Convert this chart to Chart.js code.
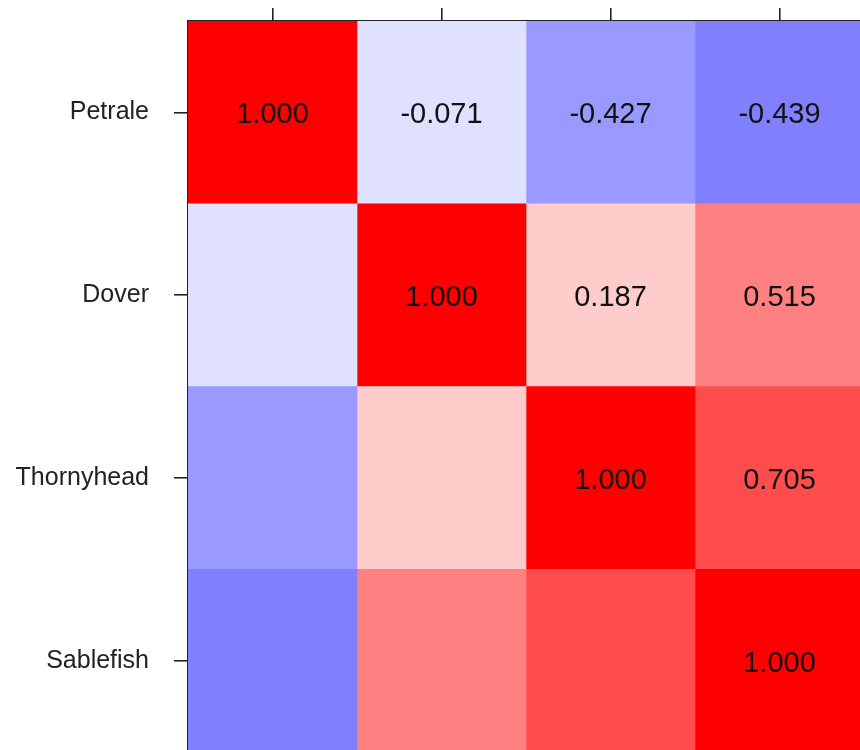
<!DOCTYPE html>
<html>
<head>
<meta charset="utf-8">
<title>Species correlation matrix</title>
<script src="https://cdn.jsdelivr.net/npm/chart.js@4/dist/chart.umd.min.js"></script>
<style>
  html, body { margin: 0; padding: 0; background: #ffffff; overflow: hidden; }
  #wrap { position: absolute; left: 0; top: 0; width: 864px; height: 752px; }
</style>
</head>
<body>
<div id="wrap"><canvas id="chart" width="864" height="752"></canvas></div>
<script>
// Species (row and column labels of the matrix)
const species = ['Petrale', 'Dover', 'Thornyhead', 'Sablefish'];

// Correlation rows, one per species
const petrale    = [1.000, -0.071, -0.427, -0.439];
const dover      = [-0.071, 1.000, 0.187, 0.515];
const thornyhead = [-0.427, 0.187, 1.000, 0.705];
const sablefish  = [-0.439, 0.515, 0.705, 1.000];

const matrix = [petrale, dover, thornyhead, sablefish];

// Stepped blue-white-red shading by magnitude of the correlation
function shadeFor(v) {
  const a = Math.abs(v);
  let s;
  if (a >= 0.9) s = 0;
  else if (a >= 0.6) s = 77;
  else if (a >= 0.435) s = 128;
  else if (a >= 0.3) s = 153;
  else if (a >= 0.1) s = 204;
  else s = 224;
  return v >= 0 ? `rgb(255,${s},${s})` : `rgb(${s},${s},255)`;
}

// One dataset per column; each cell is a floating bar spanning [col, col+1]
const datasets = species.map((_, c) => ({
  label: species[c],
  data: species.map(() => [c, c + 1]),
  backgroundColor: species.map((_, r) => shadeFor(matrix[r][c])),
  borderWidth: 0,
  barPercentage: 1,
  categoryPercentage: 1,
  grouped: false
}));

// Writes the coefficient on the diagonal and upper triangle
const cellText = {
  id: 'cellText',
  afterDatasetsDraw(chart) {
    const ctx = chart.ctx;
    ctx.save();
    ctx.font = '29px "Liberation Sans", Arial, sans-serif';
    ctx.fillStyle = '#111111';
    ctx.textAlign = 'center';
    ctx.textBaseline = 'middle';
    chart.data.datasets.forEach((ds, c) => {
      const meta = chart.getDatasetMeta(c);
      meta.data.forEach((bar, r) => {
        if (r > c) return;
        const p = bar.getProps(['x', 'y', 'base'], true);
        const cx = (p.x + p.base) / 2;
        ctx.fillText(matrix[r][c].toFixed(3), cx, p.y + 3);
      });
    });
    ctx.restore();
  }
};

new Chart(document.getElementById('chart'), {
  type: 'bar',
  data: { labels: species, datasets },
  options: {
    indexAxis: 'y',
    responsive: false,
    animation: false,
    layout: { padding: { top: 8, left: 0, right: 0, bottom: 0 } },
    plugins: { legend: { display: false }, tooltip: { enabled: false } },
    scales: {
      x: {
        type: 'linear',
        position: 'top',
        min: 0,
        max: 4,
        afterBuildTicks(scale) {
          scale.ticks = species.map((_, i) => ({ value: i + 0.5 }));
        },
        afterFit(scale) {
          scale.height = 13;
          scale.paddingLeft = 0;
          scale.paddingRight = 0;
        },
        ticks: { display: false },
        grid: {
          drawOnChartArea: false,
          drawTicks: true,
          tickLength: 13,
          color: '#222222',
          lineWidth: 1.6
        },
        border: { display: true, color: '#222222', width: 1.6 }
      },
      y: {
        type: 'category',
        offset: true,
        afterFit(scale) {
          scale.width = 188;
          scale.paddingTop = 0;
          scale.paddingBottom = 0;
        },
        ticks: {
          color: '#222222',
          padding: 25,
          font: { family: '"Liberation Sans", Arial, sans-serif', size: 25 }
        },
        grid: {
          offset: false,
          drawOnChartArea: false,
          drawTicks: true,
          tickLength: 14,
          color: '#222222',
          lineWidth: 1.6
        },
        border: { display: true, color: '#222222', width: 1.6 }
      }
    }
  },
  plugins: [cellText]
});
</script>
</body>
</html>
